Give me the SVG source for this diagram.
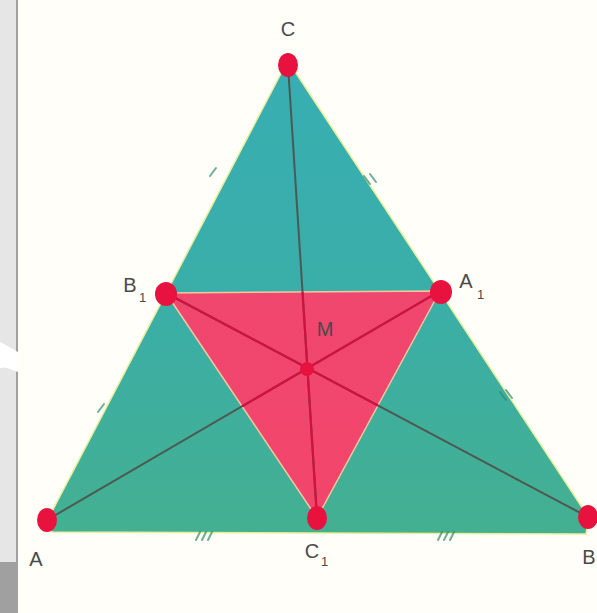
<svg xmlns="http://www.w3.org/2000/svg" width="597" height="613" viewBox="0 0 597 613">
  <defs>
    <linearGradient id="teal" x1="0" y1="0" x2="0" y2="1">
      <stop offset="0" stop-color="#38aeb3"/>
      <stop offset="0.5" stop-color="#3aaea8"/>
      <stop offset="1" stop-color="#44b091"/>
    </linearGradient>
    <linearGradient id="pink" x1="0" y1="0" x2="0" y2="1">
      <stop offset="0" stop-color="#f0476e"/>
      <stop offset="1" stop-color="#f2456c"/>
    </linearGradient>
    <clipPath id="inner">
      <polygon points="166,293 440,291 317,518"/>
    </clipPath>
    <style>
      .lbl { font-family: "Liberation Sans", Arial, sans-serif; font-size: 20px; fill: #4a4a48; text-anchor: middle; }
      .sub { font-family: "Liberation Sans", Arial, sans-serif; font-size: 13px; fill: #4a4a48; }
      .dot { fill: #e8123f; }
      .med { stroke: #4f4a44; stroke-width: 2; fill: none; stroke-opacity: 0.85; }
      .medin { stroke: #cf1240; stroke-width: 2.2; fill: none; }
      .tick { stroke: #2f8a6c; stroke-width: 2; fill: none; stroke-linecap: round; stroke-opacity: 0.7; }
    </style>
  </defs>

  <!-- background -->
  <rect x="0" y="0" width="597" height="613" fill="#fffef8"/>
  <rect x="0" y="0" width="16" height="562" fill="#e6e6e6"/>
  <rect x="16" y="0" width="2" height="562" fill="#a0a0a0"/>
  <rect x="0" y="562" width="18" height="51" fill="#a0a0a0"/>
  <path d="M0,342 C8,346 14,350 18,352 L18,372 C12,370 6,366 0,368 Z" fill="#ffffff"/>

  <!-- faces -->
  <g id="outer-triangle">
    <polygon points="47,521 52,532 586,534 589,518 290,64 286,64" fill="url(#teal)" stroke="#e9ee9a" stroke-width="1.5" stroke-linejoin="round"/>
  </g>
  <g id="medial-triangle">
    <polygon points="166,293 440,291 317,518" fill="url(#pink)" stroke="#f3c79c" stroke-width="1.5" stroke-linejoin="round"/>
  </g>

  <!-- tick marks on sides -->
  <g id="ticks">
    <path class="tick" d="M210,176 l6,-8"/>
    <path class="tick" d="M98,412 l6,-8"/>
    <path class="tick" d="M364,176 l6,8 M370,174 l6,8"/>
    <path class="tick" d="M500,392 l6,8 M506,390 l6,8"/>
    <path class="tick" d="M196,540 l4,-8 M202,540 l4,-8 M208,540 l4,-8"/>
    <path class="tick" d="M438,540 l4,-8 M444,540 l4,-8 M450,540 l4,-8"/>
  </g>

  <!-- connectors: medians -->
  <g id="connectors">
    <line class="med" x1="47" y1="520" x2="440" y2="291"/>
    <line class="med" x1="588" y1="517" x2="166" y2="293"/>
    <line class="med" x1="288" y1="65" x2="317" y2="518"/>
    <g clip-path="url(#inner)">
      <line class="medin" x1="47" y1="520" x2="440" y2="291"/>
      <line class="medin" x1="588" y1="517" x2="166" y2="293"/>
      <line class="medin" x1="288" y1="65" x2="317" y2="518"/>
    </g>
  </g>

  <!-- nodes -->
  <g id="node-C">
    <ellipse class="dot" cx="288" cy="65" rx="10" ry="12"/>
    <text class="lbl" x="288" y="36">C</text>
  </g>
  <g id="node-A">
    <ellipse class="dot" cx="47" cy="520" rx="10" ry="12"/>
    <text class="lbl" x="36" y="566">A</text>
  </g>
  <g id="node-B">
    <ellipse class="dot" cx="588" cy="517" rx="10" ry="12"/>
    <text class="lbl" x="589" y="564">B</text>
  </g>
  <g id="node-B1">
    <ellipse class="dot" cx="166" cy="294" rx="11" ry="12"/>
    <text class="lbl" x="130" y="292">B</text>
    <text class="sub" x="139" y="302">1</text>
  </g>
  <g id="node-A1">
    <ellipse class="dot" cx="441" cy="292" rx="11" ry="12"/>
    <text class="lbl" x="466" y="288">A</text>
    <text class="sub" x="477" y="299">1</text>
  </g>
  <g id="node-C1">
    <ellipse class="dot" cx="317" cy="518" rx="10" ry="12"/>
    <text class="lbl" x="312" y="558">C</text>
    <text class="sub" x="321" y="566">1</text>
  </g>
  <g id="node-M">
    <circle class="dot" cx="307" cy="369" r="7"/>
    <text class="lbl" x="325" y="336">M</text>
  </g>
</svg>
